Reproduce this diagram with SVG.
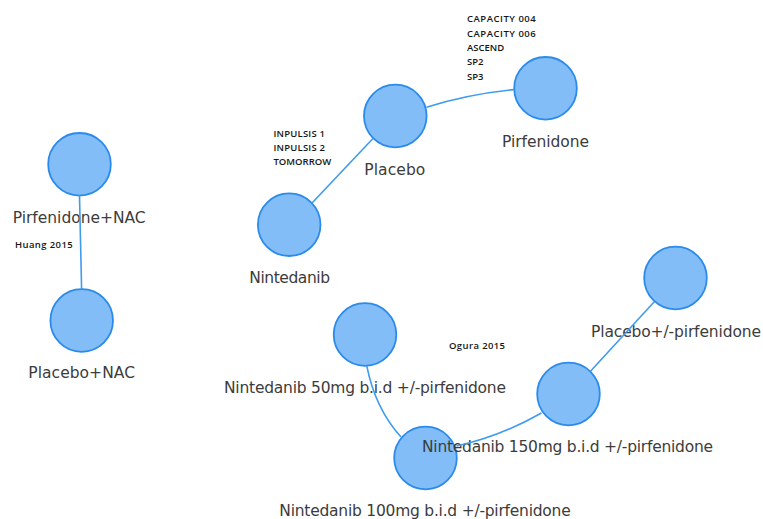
<svg xmlns="http://www.w3.org/2000/svg" width="763" height="519" viewBox="0 0 763 519">
  <style>
    .node { fill: #82BDF8; stroke: #2B8BEA; stroke-width: 1.8; }
    .lbl { font-family: "DejaVu Sans", "Liberation Sans", sans-serif; font-size: 15.5px; fill: #3c3c3c; }
    .sm { font-family: "Open Sans", "Liberation Sans", sans-serif; font-size: 9.5px; font-weight: 600; fill: #161616; }
    .edge { fill: none; stroke: #3F9BEE; stroke-width: 1.6; }
  </style>
  <rect width="763" height="519" fill="#ffffff"/>

  <g id="node-pirfenidone-nac">
    <circle class="node" cx="79.5" cy="164.3" r="31.3"/>
    <text class="lbl" x="12.7" y="222.7" textLength="133">Pirfenidone+NAC</text>
  </g>
  <g id="node-placebo-nac">
    <circle class="node" cx="81.7" cy="320.5" r="31.3"/>
    <text class="lbl" x="28.3" y="378.3" textLength="106.7">Placebo+NAC</text>
  </g>
  <g id="node-placebo">
    <circle class="node" cx="395.3" cy="116" r="31.3"/>
    <text class="lbl" x="364.3" y="175" textLength="61">Placebo</text>
  </g>
  <g id="node-pirfenidone">
    <circle class="node" cx="545.5" cy="88.3" r="31.3"/>
    <text class="lbl" x="502" y="147.3" textLength="87">Pirfenidone</text>
  </g>
  <g id="node-nintedanib">
    <circle class="node" cx="289.2" cy="224.7" r="31.3"/>
    <text class="lbl" x="249.3" y="283.3" textLength="80.7">Nintedanib</text>
  </g>
  <g id="node-nintedanib-50">
    <circle class="node" cx="365" cy="334.5" r="31.3"/>
    <text class="lbl" x="224" y="393" textLength="282">Nintedanib 50mg b.i.d +/-pirfenidone</text>
  </g>
  <g id="node-placebo-pm-pirfenidone">
    <circle class="node" cx="675.5" cy="278" r="31.3"/>
    <text class="lbl" x="591" y="337" textLength="170">Placebo+/-pirfenidone</text>
  </g>
  <g id="node-nintedanib-100">
    <circle class="node" cx="425.5" cy="458" r="31.3"/>
    <text class="lbl" x="279.3" y="516" textLength="291.4">Nintedanib 100mg b.i.d +/-pirfenidone</text>
  </g>
  <g id="node-nintedanib-150">
    <circle class="node" cx="568.5" cy="394" r="31.3"/>
    <text class="lbl" x="422" y="452" textLength="291">Nintedanib 150mg b.i.d +/-pirfenidone</text>
  </g>

  <g id="connectors">
    <g id="edge-pnac-plnac">
      <path class="edge" d="M79.5,195.6 L81.6,289.2"/>
      <text class="sm" x="15" y="248" textLength="57.7">Huang 2015</text>
    </g>
    <g id="edge-placebo-pirfenidone">
      <path class="edge" d="M426.4,107.2 Q469,94 514.3,89.6"/>
      <text class="sm" x="467" y="22.3" textLength="68.7">CAPACITY 004</text>
      <text class="sm" x="467" y="36.7" textLength="68.7">CAPACITY 006</text>
      <text class="sm" x="467" y="51">ASCEND</text>
      <text class="sm" x="467" y="65.4">SP2</text>
      <text class="sm" x="467" y="80">SP3</text>
    </g>
    <g id="edge-nintedanib-placebo">
      <path class="edge" d="M311.8,203.2 L373.2,138.3"/>
      <text class="sm" x="273.5" y="136.5" textLength="51.5">INPULSIS 1</text>
      <text class="sm" x="273.5" y="151" textLength="51.5">INPULSIS 2</text>
      <text class="sm" x="273.5" y="165">TOMORROW</text>
    </g>
    <g id="edge-n50-n100">
      <path class="edge" d="M366.8,365.8 Q375,408 401,437"/>
    </g>
    <g id="edge-n100-n150">
      <path class="edge" d="M456.5,446 Q499,437 541.5,413"/>
      <text class="sm" x="449" y="349" textLength="56">Ogura 2015</text>
    </g>
    <g id="edge-n150-ppirf">
      <path class="edge" d="M590.7,371 L654.5,301.5"/>
    </g>
  </g>
</svg>
